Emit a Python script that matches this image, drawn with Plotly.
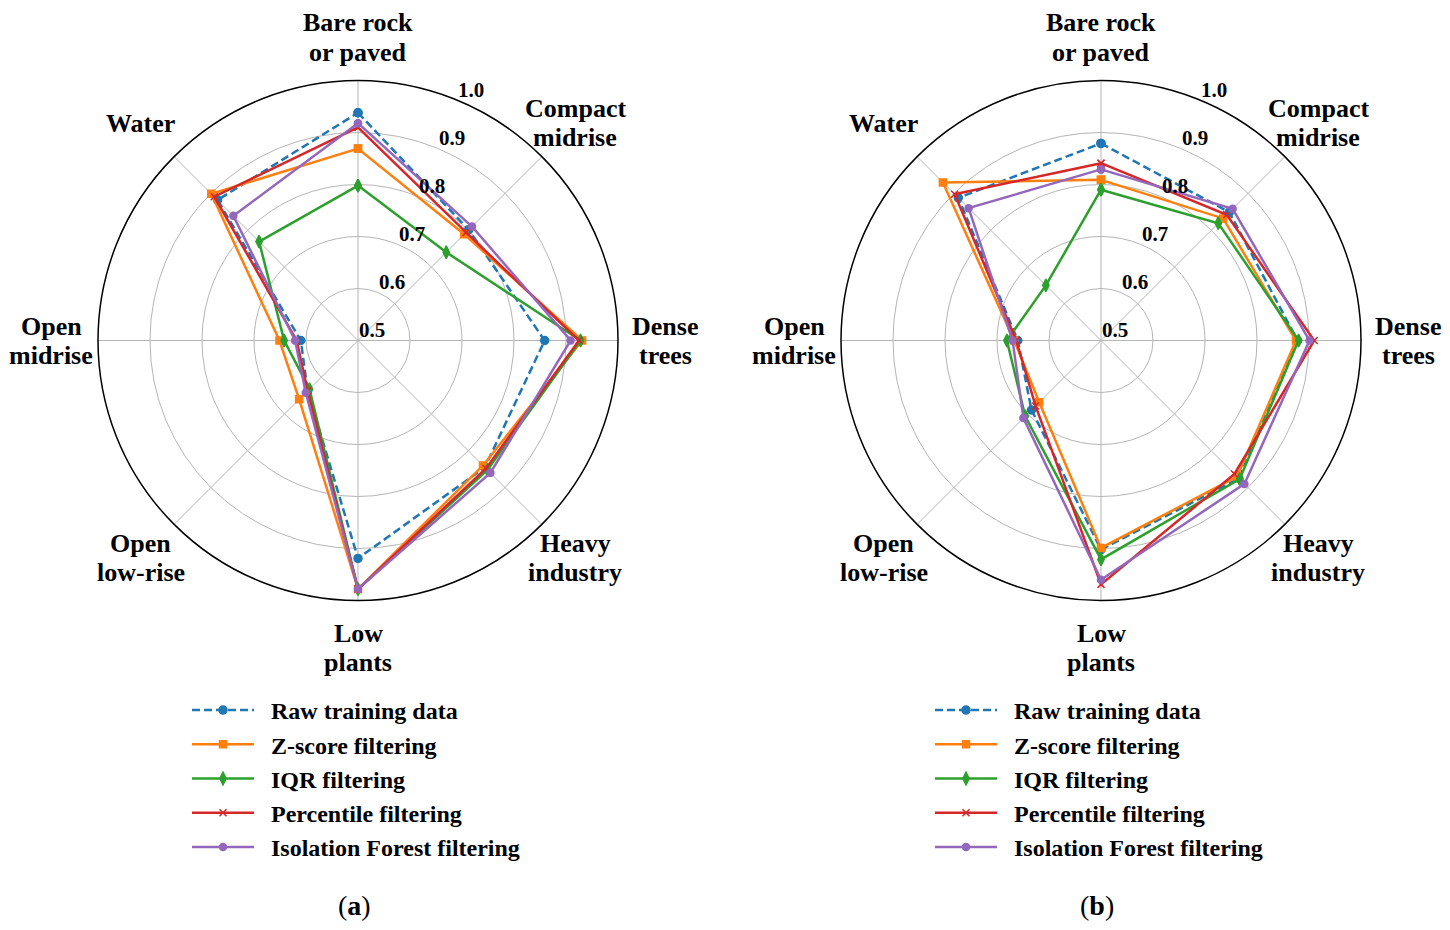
import math
import plotly.graph_objects as go

# class order, clockwise from the top
categories = ["Bare rock or paved", "Compact midrise", "Dense trees", "Heavy industry",
              "Low plants", "Open low-rise", "Open midrise", "Water"]
label_lines = [["Bare rock", "or paved"], ["Compact", "midrise"], ["Dense", "trees"],
               ["Heavy", "industry"], ["Low", "plants"], ["Open", "low-rise"],
               ["Open", "midrise"], ["Water"]]

series_names = ["Raw training data", "Z-score filtering", "IQR filtering",
                "Percentile filtering", "Isolation Forest filtering"]

# (a)
raw_a = [0.938, 0.801, 0.859, 0.845, 0.919, 0.637, 0.610, 0.882]
zscore_a = [0.869, 0.789, 0.931, 0.840, 0.978, 0.660, 0.651, 0.899]
iqr_a = [0.798, 0.740, 0.928, 0.852, 0.978, 0.632, 0.642, 0.769]
pct_a = [0.910, 0.794, 0.925, 0.848, 0.978, 0.637, 0.618, 0.891]
iso_a = [0.918, 0.810, 0.909, 0.860, 0.978, 0.642, 0.621, 0.839]

# (b)
raw_b = [0.879, 0.849, 0.878, 0.875, 0.902, 0.689, 0.660, 0.888]
zscore_b = [0.809, 0.832, 0.875, 0.870, 0.899, 0.668, 0.667, 0.930]
iqr_b = [0.790, 0.819, 0.880, 0.877, 0.921, 0.706, 0.681, 0.650]
pct_b = [0.841, 0.842, 0.910, 0.863, 0.969, 0.678, 0.663, 0.898]
iso_b = [0.829, 0.858, 0.901, 0.890, 0.960, 0.711, 0.670, 0.860]

r_ticks = [0.5, 0.6, 0.7, 0.8, 0.9, 1.0]
r_min, r_max = 0.5, 1.0
panel_labels = ["a", "b"]

# page body has an 8px margin, so the figure is a bit smaller than the window
OFF = 8
W, H = 1450 - 2 * OFF, 930 - 2 * OFF
R = 260
centers = [(358, 340.5), (1101, 340.5)]   # window pixels
FONT = "Liberation Serif, Times New Roman, serif"


def px(x):
    return (x - OFF) / W


def py(y):
    return 1 - (y - OFF) / H


styles = [
    dict(color="#1f77b4", dash="8px,4px", symbol="circle", size=8),
    dict(color="#ff7f0e", dash="solid", symbol="square", size=7),
    dict(color="#2ca02c", dash="solid", symbol="diamond-tall", size=9),
    dict(color="#d62728", dash="solid", symbol="x-thin", size=7),
    dict(color="#9467bd", dash="solid", symbol="circle", size=7),
]

fig = go.Figure()

panels = [[raw_a, zscore_a, iqr_a, pct_a, iso_a], [raw_b, zscore_b, iqr_b, pct_b, iso_b]]
for p, series in enumerate(panels):
    for name, vals, st in zip(series_names, series, styles):
        fig.add_trace(go.Scatterpolar(
            r=vals + vals[:1], theta=categories + categories[:1],
            mode="lines+markers", name="\u00a0\u00a0" + name,
            subplot="polar" if p == 0 else "polar2",
            legend="legend" if p == 0 else "legend2",
            line=dict(color=st["color"], width=2.5, dash=st["dash"]),
            marker=dict(symbol=st["symbol"], size=st["size"], color=st["color"],
                        line=dict(color=st["color"], width=1.5)),
        ))

annotations = []
ua = math.radians(67.5)
for p, (cx, cy) in enumerate(centers):
    # class labels around the circle
    for i, lines in enumerate(label_lines):
        ang = math.radians(90 - 45 * i)
        lx = cx + 307 * math.cos(ang)
        ly = cy - 307 * math.sin(ang)
        if i == 0:
            ly += 4   # keep the top label inside the page
        for k, txt in enumerate(lines):
            off = (k - (len(lines) - 1) / 2) * 29
            annotations.append(dict(
                x=px(lx), y=py(ly + off), xref="paper", yref="paper",
                text=txt, showarrow=False, xanchor="center", yanchor="middle",
                font=dict(family=FONT, size=26, color="black", weight="bold")))
    # radial tick labels along the 22.5 deg spoke
    for t in r_ticks:
        d = (t - r_min) / (r_max - r_min) * R + 14.6
        tx = cx + d * math.cos(ua) + 9 * math.sin(ua)
        ty = cy - d * math.sin(ua) + 9 * math.cos(ua)
        annotations.append(dict(
            x=px(tx), y=py(ty), xref="paper", yref="paper",
            text="%.1f" % t, showarrow=False, xanchor="center", yanchor="middle",
            font=dict(family=FONT, size=21, color="black", weight="bold")))
    annotations.append(dict(
        x=px(cx - 4), y=py(905), xref="paper", yref="paper",
        text="(<b>%s</b>)" % panel_labels[p], showarrow=False,
        xanchor="center", yanchor="middle",
        font=dict(family=FONT, size=28, color="black")))


def polar_layout(cx, cy):
    return dict(
        domain=dict(x=[px(cx - R), px(cx + R)], y=[py(cy + R), py(cy - R)]),
        bgcolor="white",
        angularaxis=dict(
            type="category", categoryarray=categories, rotation=90, direction="clockwise",
            showticklabels=False, ticks="", showline=True, linecolor="black", linewidth=1.5,
            gridcolor="#b5b5b5", gridwidth=0.8),
        radialaxis=dict(
            range=[r_min, r_max], tickvals=r_ticks, showticklabels=False,
            angle=67.5, showline=False, ticks="",
            gridcolor="#b5b5b5", gridwidth=0.8),
    )


legend_style = dict(
    font=dict(family=FONT, size=24, color="black", weight="bold"),
    bgcolor="rgba(0,0,0,0)", itemwidth=62, yanchor="top", xanchor="left",
    tracegroupgap=0,
)

fig.update_layout(
    width=W, height=H,
    margin=dict(l=0, r=0, t=0, b=0),
    paper_bgcolor="white", plot_bgcolor="white",
    polar=polar_layout(*centers[0]),
    polar2=polar_layout(*centers[1]),
    legend=dict(x=px(192 - 5), y=py(688), **legend_style),
    legend2=dict(x=px(935 - 5), y=py(688), **legend_style),
    annotations=annotations,
    showlegend=True,
)

fig.write_html("out.html")
